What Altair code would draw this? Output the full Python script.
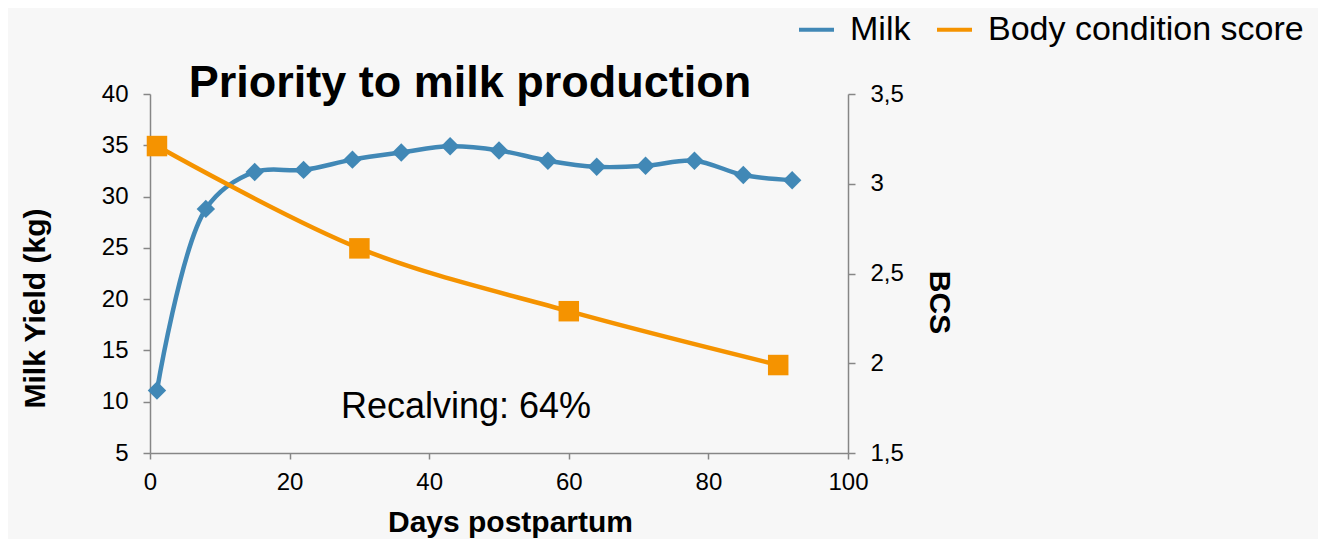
import altair as alt
import pandas as pd

# ---- data ----
milk_days = [1, 8, 15, 22, 29, 36, 43, 50, 57, 64, 71, 78, 85, 92]
milk_yield = [11.1, 28.8, 32.4, 32.6, 33.6, 34.3, 34.9, 34.5, 33.5, 32.9, 33.0, 33.5, 32.1, 31.6]

bcs_days = [1, 30, 60, 90]
bcs_values = [3.21, 2.64, 2.29, 1.99]

series_names = ["Milk", "Body condition score"]
series_colors = ["#4188b6", "#f59300"]

title_text = "Priority to milk production"
note_text = "Recalving: 64%"

FONT = "Liberation Sans, Arial, sans-serif"

milk_df = pd.DataFrame({"day": milk_days, "milk": milk_yield, "series": series_names[0]})
bcs_df = pd.DataFrame({"day": bcs_days, "bcs": bcs_values, "series": series_names[1]})

color = alt.Color(
    "series:N",
    scale=alt.Scale(domain=series_names, range=series_colors),
    legend=alt.Legend(
        orient="none",
        legendX=647,
        legendY=-84,
        direction="horizontal",
        title=None,
        symbolType="stroke",
        symbolSize=1225,
        symbolStrokeWidth=4,
        labelFontSize=34,
        labelFont=FONT,
        labelColor="black",
        labelOffset=14,
        columnPadding=18,
        padding=0,
        labelLimit=500,
    ),
)

x_enc = alt.X(
    "day:Q",
    scale=alt.Scale(domain=[0, 100], nice=False),
    axis=alt.Axis(
        title="Days postpartum",
        values=[0, 20, 40, 60, 80, 100],
        labelFlush=False,
        titleX=360,
        titleY=78,
        titleBaseline="alphabetic",
        titleAlign="center",
    ),
)

left_y = alt.Y(
    "milk:Q",
    scale=alt.Scale(domain=[5, 40], nice=False, zero=False),
    axis=alt.Axis(
        orient="left",
        title="Milk Yield (kg)",
        values=[5, 10, 15, 20, 25, 30, 35, 40],
        titleAngle=270,
        titleBaseline="bottom",
        titleAlign="center",
        titleX=-100,
        titleY=214,
    ),
)

right_y = alt.Y(
    "bcs:Q",
    scale=alt.Scale(domain=[1.5, 3.5], nice=False, zero=False),
    axis=alt.Axis(
        orient="right",
        title="BCS",
        values=[1.5, 2, 2.5, 3, 3.5],
        labelExpr="replace(toString(datum.value), '.', ',')",
        titleAngle=90,
        titleBaseline="bottom",
        titleAlign="center",
        titleX=75,
        titleY=208,
    ),
)

milk_line = alt.Chart(milk_df).mark_line(interpolate="catmull-rom", strokeWidth=4.5).encode(
    x=x_enc, y=left_y, color=color
)
milk_pts = alt.Chart(milk_df).mark_point(shape="diamond", filled=True, size=340, opacity=1).encode(
    x=x_enc, y=left_y, color=alt.value(series_colors[0])
)
bcs_line = alt.Chart(bcs_df).mark_line(interpolate="catmull-rom", strokeWidth=4.5).encode(
    x=x_enc, y=right_y, color=color
)
bcs_pts = alt.Chart(bcs_df).mark_point(shape="square", filled=True, size=420, opacity=1).encode(
    x=x_enc, y=right_y, color=alt.value(series_colors[1])
)

left = alt.layer(milk_line, milk_pts)
right = alt.layer(bcs_line, bcs_pts)

title_mark = alt.Chart(pd.DataFrame({"t": [title_text]})).mark_text(
    font=FONT, fontSize=45, fontWeight="bold", color="black", align="center", baseline="alphabetic"
).encode(text="t:N", x=alt.value(320), y=alt.value(3))

note_mark = alt.Chart(pd.DataFrame({"t": [note_text]})).mark_text(
    font=FONT, fontSize=36, color="black", align="center", baseline="alphabetic"
).encode(text="t:N", x=alt.value(316), y=alt.value(324))

chart = (
    alt.layer(left, right, title_mark, note_mark)
    .resolve_scale(y="independent")
    .properties(
        width=698,
        height=359,
        background="#f7f7f7",
        padding={"left": 142, "top": 86, "right": 470, "bottom": 86},
        autosize=alt.AutoSizeParams(type="none"),
    )
    .configure_view(stroke=None)
    .configure_axis(
        domainColor="#868686",
        domainWidth=1.5,
        tickColor="#868686",
        tickWidth=1.5,
        tickSize=7,
        labelFont=FONT,
        labelFontSize=24,
        labelColor="black",
        labelPadding=15,
        titleFont=FONT,
        titleFontSize=30,
        titleFontWeight="bold",
        titleColor="black",
        grid=False,
    )
    .configure_axisX(labelPadding=11, tickSize=6)
)

chart.save("out.html", embed_options={"renderer": "svg", "actions": False})
